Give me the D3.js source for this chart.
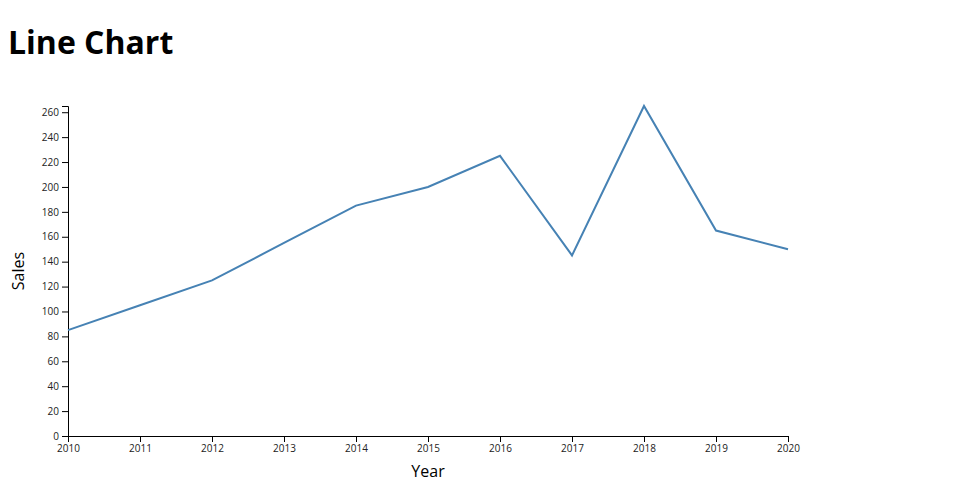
<!DOCTYPE html>
<html><head><meta charset="utf-8">
<script src="https://cdn.jsdelivr.net/npm/d3@7"></script>
<style>
body{margin:0;font-family:"Open Sans",sans-serif;background:#fff;}
h1{margin:0;position:absolute;left:8px;top:20px;font-size:32px;font-weight:bold;font-family:"Open Sans",sans-serif;}
svg{position:absolute;left:0;top:0;}
</style></head><body>
<h1>Line Chart</h1>
<svg id="c" width="960" height="500"></svg>
<script>
const years = [2010,2011,2012,2013,2014,2015,2016,2017,2018,2019,2020];
const sales = [85,105,125,155,185,200,225,145,265,165,150];

const margin = {top:106, left:68, right:172, bottom:64};
const W = 960, H = 500;
const w = W - margin.left - margin.right, h = H - margin.top - margin.bottom;
const svg = d3.select("#c");
const g = svg.append("g").attr("transform",`translate(${margin.left},${margin.top})`);
const x = d3.scaleLinear().domain(d3.extent(years)).range([0,w]);
const y = d3.scaleLinear().domain([0,d3.max(sales)]).range([h,0]);
const data = years.map((d,i)=>({year:d,value:sales[i]}));

const xa = g.append("g").attr("transform",`translate(0,${h})`).call(d3.axisBottom(x).tickValues(years).tickFormat(d3.format("d")));
const ya = g.append("g").call(d3.axisLeft(y).ticks(14));
[xa,ya].forEach(a=>a.selectAll("text").attr("font-family","Open Sans").attr("fill","#222"));

g.append("path").datum(data).attr("fill","none").attr("stroke","steelblue").attr("stroke-width",2)
 .attr("d",d3.line().x(d=>x(d.year)).y(d=>y(d.value)));

svg.append("text").attr("x",margin.left+w/2).attr("y",477).attr("text-anchor","middle")
 .attr("font-family","Open Sans").attr("font-size",16).text("Year");
svg.append("text").attr("transform",`translate(24,${margin.top+h/2}) rotate(-90)`).attr("text-anchor","middle")
 .attr("font-family","Open Sans").attr("font-size",16).text("Sales");
</script></body></html>
